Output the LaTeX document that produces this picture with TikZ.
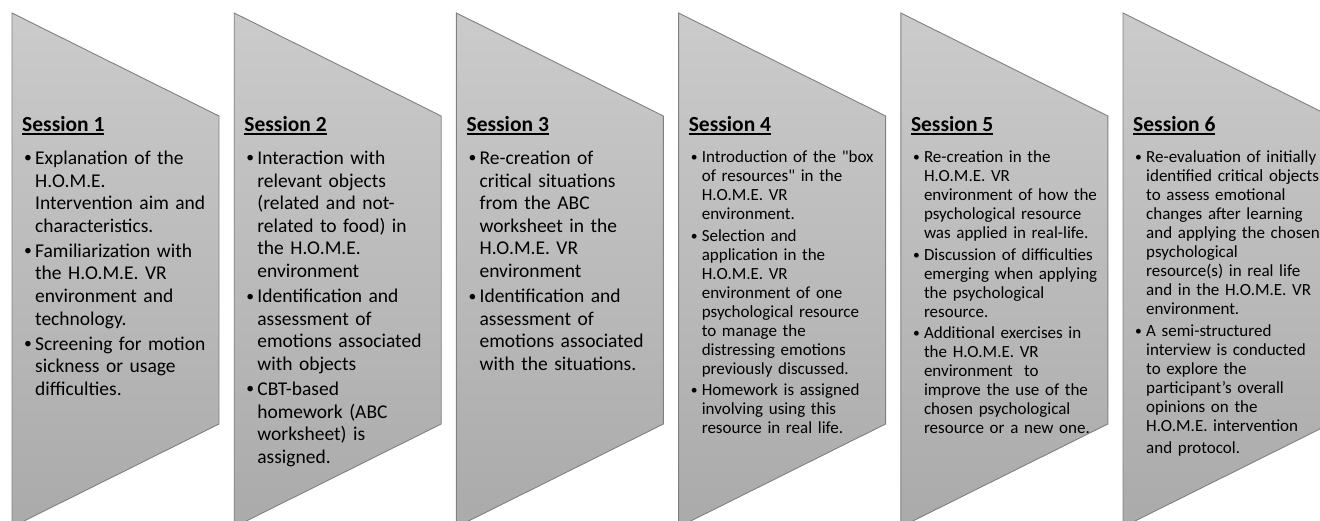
\documentclass[tikz,border=0pt]{standalone}
\usepackage{fontspec}
\setmainfont{Carlito}
\newfontfamily\plainfont{Carlito}
\usetikzlibrary{positioning}

\definecolor{panelTop}{RGB}{203,203,203}
\definecolor{panelBot}{RGB}{170,170,170}
\definecolor{panelEdge}{RGB}{128,128,128}

% heading with a thick rule under it
\newcommand{\sessline}[1]{\setbox0\hbox{#1}\leavevmode
  \rlap{\rule[-3.6pt]{\wd0}{2.2pt}}\box0}
% one bullet point, hanging indent for the wrapped lines
\newcommand{\bul}[1]{{\hangindent=13pt\hangafter=1
  \makebox[13pt][l]{\hspace{2pt}\raisebox{0.08em}{\scalebox{0.8}{\textbullet}}}#1\par}\vspace{2.5pt}}
% straight double quote
\newcommand{\sq}{{\plainfont"}}

\begin{document}
\begin{tikzpicture}[x=1pt, y=1pt,
    panel/.style={draw=panelEdge, line width=0.9pt,
                  top color=panelTop, bottom color=panelBot},
    ttl/.style={anchor=base west, inner sep=0pt,
                font=\fontsize{21.5}{25}\selectfont\bfseries},
    bodyL/.style={inner sep=0pt, text width=200pt,
                  font=\fontsize{19.5}{22.6}\selectfont},
    bodyS/.style={inner sep=0pt, text width=200pt,
                  font=\fontsize{17}{19}\selectfont}
  ]
  \useasboundingbox (0,0) rectangle (1320,-521);

  % chevron panels
  \foreach \i [evaluate=\i as \px using 12+222.2*\i] in {0,...,5} {
    \draw[panel] (\px,-13) -- ++(207,-103) -- ++(0,-308)
      -- ++(-207,-103) -- cycle;
  }

  % session headings
  \foreach \i [evaluate=\i as \px using 22+222.2*(\i-1)] in {1,...,6} {
    \node[ttl] (t\i) at (\px,-131.5) {\sessline{Session \i}};
  }

  \node[bodyL, below=33pt of t1.base west, anchor=base west] (b1) {%
    \bul{Explanation of the\newline H.O.M.E.\newline Intervention aim and\newline characteristics.}
    \bul{Familiarization with\newline the H.O.M.E. VR\newline environment and\newline technology.}
    \bul{Screening for motion\newline sickness or usage\newline difficulties.}};

  \node[bodyL, below=33pt of t2.base west, anchor=base west] (b2) {%
    \bul{Interaction with\newline relevant objects\newline (related and not-\newline related to food) in\newline the H.O.M.E.\newline environment}
    \bul{Identification and\newline assessment of\newline emotions associated\newline with objects}
    \bul{CBT-based\newline homework (ABC\newline worksheet) is\newline assigned.}};

  \node[bodyL, below=33pt of t3.base west, anchor=base west] (b3) {%
    \bul{Re-creation of\newline critical situations\newline from the ABC\newline worksheet in the\newline H.O.M.E. VR\newline environment}
    \bul{Identification and\newline assessment of\newline emotions associated\newline with the situations.}};

  \node[bodyS, below=31.5pt of t4.base west, anchor=base west] (b4) {%
    \bul{Introduction of the \sq box\newline of resources\sq\ in the\newline H.O.M.E. VR\newline environment.}
    \bul{Selection and\newline application in the\newline H.O.M.E. VR\newline environment of one\newline psychological resource\newline to manage the\newline distressing emotions\newline previously discussed.}
    \bul{Homework is assigned\newline involving using this\newline resource in real life.}};

  \node[bodyS, below=31.5pt of t5.base west, anchor=base west] (b5) {%
    \bul{Re-creation in the\newline H.O.M.E. VR\newline environment of how the\newline psychological resource\newline was applied in real-life.}
    \bul{Discussion of difficulties\newline emerging when applying\newline the psychological\newline resource.}
    \bul{Additional exercises in\newline the H.O.M.E. VR\newline environment\ \ to\newline improve the use of the\newline chosen psychological\newline resource or a new one.}};

  \node[bodyS, below=31.5pt of t6.base west, anchor=base west] (b6) {%
    \bul{Re-evaluation of initially\newline identified critical objects\newline to assess emotional\newline changes after learning\newline and applying the chosen\newline psychological\newline resource(s) in real life\newline and in the H.O.M.E. VR\newline environment.}
    \bul{A semi-structured\newline interview is conducted\newline to explore the\newline participant’s overall\newline opinions on the\newline H.O.M.E. intervention\vspace{3pt}\newline and protocol.}};
\end{tikzpicture}
\end{document}
